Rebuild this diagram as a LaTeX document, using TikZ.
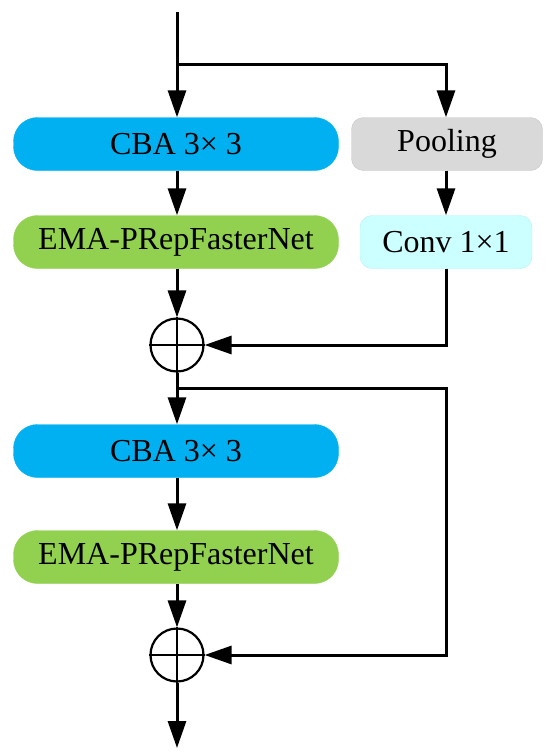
\documentclass[tikz,border=0pt]{standalone}
\usepackage{fontspec}
\setmainfont{Liberation Serif}
\usetikzlibrary{arrows.meta,positioning}
\definecolor{cbablue}{HTML}{00B0F0}
\definecolor{emagreen}{HTML}{92D050}
\definecolor{poolgray}{HTML}{D9D9D9}
\definecolor{convcyan}{HTML}{CCFFFF}
\begin{document}
\begin{tikzpicture}[x=1pt,y=-1pt,
  every node/.style={font=\fontsize{32}{38}\selectfont,inner sep=0pt},
  mainblk/.style={draw=#1,fill=#1,minimum width=325pt,minimum height=53pt,rounded corners=24pt},
  sideblk/.style n args={3}{draw=#2,fill=#1,minimum width=#3,minimum height=53pt,rounded corners=12pt},
  addnode/.style={circle,draw,line width=2.2pt,minimum size=53pt},
  flow/.style={line width=3pt,-{Triangle[length=27pt,width=18pt]}}]
\useasboundingbox (0,0) rectangle (550,753);
% blocks
\node[mainblk=cbablue] (cba1) at (176,144) {CBA 3× 3};
\node[sideblk={poolgray}{poolgray!92!black}{191pt}] (pool) at (447,144) {Pooling};
\node[mainblk=emagreen] (ema1) at (176,242) {EMA-PRepFasterNet};
\node[sideblk={convcyan}{convcyan!90!cyan!95!black}{172pt}] (conv) at (446,242) {Conv 1×1};
\node[addnode] (add1) at (177,345) {};
\node[mainblk=cbablue] (cba2) at (176,451) {CBA 3× 3};
\node[mainblk=emagreen] (ema2) at (176,557) {EMA-PRepFasterNet};
\node[addnode] (add2) at (177,655) {};
\coordinate (input) at (177,12);
\coordinate (split1) at (177,64);
\coordinate (split2) at (177,388);
\coordinate (output) at (177,748);
% cross inside the adders
\foreach \a in {add1,add2} {
  \draw[line width=1.6pt] (\a.west) -- (\a.east);
  \draw[line width=1.6pt] (\a.north) -- (\a.south);
}
% connectors
\draw[flow] (input) -- (input |- cba1.north);
\draw[flow] (split1) -| (conv.north |- pool.north);
\draw[flow] (input |- cba1.south) -- (input |- ema1.north);
\draw[flow] (conv.north |- pool.south) -- (conv.north);
\draw[flow] (input |- ema1.south) -- (add1.north);
\draw[flow] (conv.south) |- (add1.east);
\draw[flow] (add1.south) -- (input |- cba2.north);
\draw[flow] (split2) -- (split2 -| conv) |- (add2.east);
\draw[flow] (input |- cba2.south) -- (input |- ema2.north);
\draw[flow] (input |- ema2.south) -- (add2.north);
\draw[flow] (add2.south) -- (output);
\end{tikzpicture}
\end{document}
